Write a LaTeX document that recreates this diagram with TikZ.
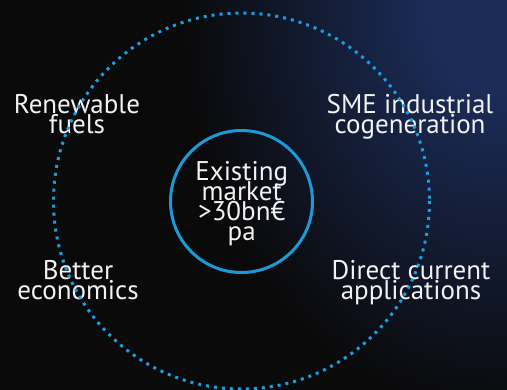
\documentclass[tikz,border=0pt]{standalone}
\usepackage{fontspec}
\setmainfont{PT Sans}
\definecolor{bgc}{HTML}{0A0A0B}
\definecolor{glowc}{HTML}{1B2C58}
\definecolor{dotc}{HTML}{1A9EE2}
\definecolor{ringc}{HTML}{1B9AD6}
\definecolor{txtc}{HTML}{F2F2F2}
\newcommand\lblfont{\fontsize{27}{20}\selectfont\lineskiplimit=-100pt\relax}
\pgfdeclareradialshading{glow}{\pgfpoint{0bp}{0bp}}{color(0bp)=(glowc); color(2.5bp)=(glowc); color(12.5bp)=(bgc); color(50bp)=(bgc)}
\tikzset{
  lbl/.style={text=txtc, align=center, anchor=base, inner sep=0pt, font=\lblfont},
  dotring/.style={draw=dotc, line width=3pt, dash pattern=on 3pt off 5pt},
  ring/.style={draw=ringc, line width=3pt, circle, minimum size=142pt, inner sep=0pt}
}
\begin{document}
\begin{tikzpicture}[x=1pt,y=-1pt]
\useasboundingbox (0,0) rectangle (507,389);
\fill[bgc] (0,0) rectangle (507,389);
\begin{scope}
  \clip (0,0) rectangle (507,389);
  \shade[shading=glow] (495,10) ellipse [x radius=620, y radius=800];
\end{scope}
\node[lbl] (renew) at (77,133.3) {Renewable\\fuels};
\node[lbl] (sme) at (410,133.3) {SME industrial\\cogeneration};
\node[lbl] (better) at (78,299.3) {Better\\economics};
\node[lbl] (direct) at (411,299.3) {Direct current\\applications};
\node[ring] (core) at (241.5,201.5) {};
\node[lbl] (market) at (241.7,240.8) {Existing\\market\\>30bn€\\pa};
\draw[dotring] (241.5,201) circle [radius=188];
\end{tikzpicture}
\end{document}
